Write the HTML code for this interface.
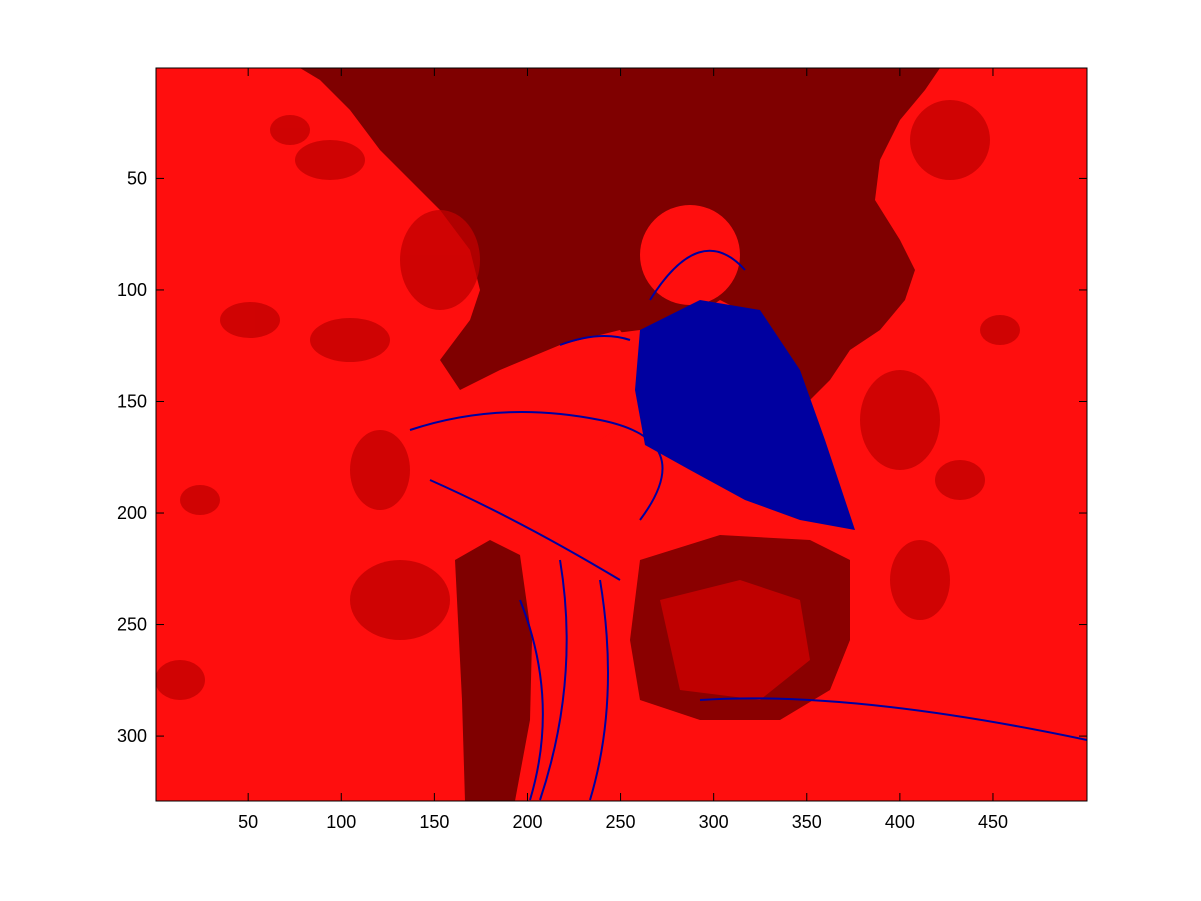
<!DOCTYPE html>
<html><head><meta charset="utf-8">
<style>
html,body{margin:0;padding:0;background:#fff;width:1201px;height:901px;overflow:hidden;}
svg text{font-family:"Liberation Sans",Arial,sans-serif;font-size:18px;fill:#000;}
</style></head>
<body>
<svg id="chart" width="1201" height="901" viewBox="0 0 1201 901" xmlns="http://www.w3.org/2000/svg">
<defs><clipPath id="clip"><rect x="156" y="68" width="931" height="733"/></clipPath></defs>
<g clip-path="url(#clip)">
<rect x="156" y="68" width="931" height="733" fill="#ff0e0e"/>
<polygon fill="#7f0000" points="300,68 940,68 925,90 900,120 880,160 875,200 900,240 915,270 905,300 880,330 850,350 830,380 810,400 790,360 760,320 720,300 690,320 660,330 640,330 600,335 560,345 500,370 460,390 440,360 470,320 480,290 470,250 440,210 410,180 380,150 350,110 320,80"/>
<circle cx="690" cy="255" r="50" fill="#ff0e0e"/>
<polygon fill="#ff0e0e" points="560,345 620,330 640,360 630,420 600,440 560,400"/>
<polygon fill="#7f0000" points="455,560 490,540 520,555 532,640 530,720 515,801 465,801 462,700 458,620"/>
<polygon fill="#8a0000" points="640,560 720,535 810,540 850,560 850,640 830,690 780,720 700,720 640,700 630,640"/>
<polygon fill="#c00000" points="660,600 740,580 800,600 810,660 760,700 680,690"/>
<polygon fill="#0000a0" points="640,330 700,300 760,310 800,370 825,440 855,530 800,520 745,500 690,470 645,445 635,390"/>
<g fill="#c00000" opacity="0.75">
<ellipse cx="330" cy="160" rx="35" ry="20"/><ellipse cx="250" cy="320" rx="30" ry="18"/>
<ellipse cx="350" cy="340" rx="40" ry="22"/><ellipse cx="380" cy="470" rx="30" ry="40"/>
<ellipse cx="400" cy="600" rx="50" ry="40"/><ellipse cx="200" cy="500" rx="20" ry="15"/>
<ellipse cx="180" cy="680" rx="25" ry="20"/><ellipse cx="900" cy="420" rx="40" ry="50"/>
<ellipse cx="920" cy="580" rx="30" ry="40"/><ellipse cx="960" cy="480" rx="25" ry="20"/>
<ellipse cx="440" cy="260" rx="40" ry="50"/><ellipse cx="950" cy="140" rx="40" ry="40"/>
<ellipse cx="290" cy="130" rx="20" ry="15"/><ellipse cx="1000" cy="330" rx="20" ry="15"/>
</g>
<g stroke="#0000a0" stroke-width="2" fill="none">
<path d="M410,430 Q500,400 600,420 T640,520"/><path d="M430,480 Q520,520 620,580"/>
<path d="M560,560 Q580,680 540,800"/><path d="M600,580 Q620,700 590,800"/>
<path d="M520,600 Q560,700 530,800"/><path d="M700,700 Q850,690 1087,740"/>
<path d="M650,300 Q700,220 745,270"/><path d="M560,345 Q600,330 630,340"/>
</g>
</g>
<rect x="156" y="68" width="931" height="733" fill="none" stroke="#000" stroke-width="1"/>
<g id="ticks"></g>
<script>
const xTicks=[50,100,150,200,250,300,350,400,450];
const yTicks=[50,100,150,200,250,300];
const x0=156,x1=1087,y0=68,y1=801;
function sx(v){return x0+(v-0.5)*(x1-x0)/500;}
function sy(v){return y0+(v-0.5)*(y1-y0)/328.6;}
const g=document.getElementById('ticks');
const NS='http://www.w3.org/2000/svg';
xTicks.forEach(v=>{
  const x=sx(v);
  [[y1,y1-8],[y0,y0+8]].forEach(p=>{
    const l=document.createElementNS(NS,'line');
    l.setAttribute('x1',x);l.setAttribute('x2',x);l.setAttribute('y1',p[0]);l.setAttribute('y2',p[1]);
    l.setAttribute('stroke','#000');
    
    
    g.appendChild(l);});
  const t=document.createElementNS(NS,'text');
  t.setAttribute('x',x);t.setAttribute('y',y1+27);t.setAttribute('text-anchor','middle');
  t.textContent=v;
  
  
  g.appendChild(t);
});
yTicks.forEach(v=>{
  const y=sy(v);
  [[x0,x0+8],[x1,x1-8]].forEach(p=>{
    const l=document.createElementNS(NS,'line');
    l.setAttribute('y1',y);l.setAttribute('y2',y);l.setAttribute('x1',p[0]);l.setAttribute('x2',p[1]);
    l.setAttribute('stroke','#000');
    
    
    g.appendChild(l);});
  const t=document.createElementNS(NS,'text');
  t.setAttribute('x',x0-9);t.setAttribute('y',y+6);t.setAttribute('text-anchor','end');
  t.textContent=v;
  
  
  g.appendChild(t);
});
</script>
</svg>
</body></html>
